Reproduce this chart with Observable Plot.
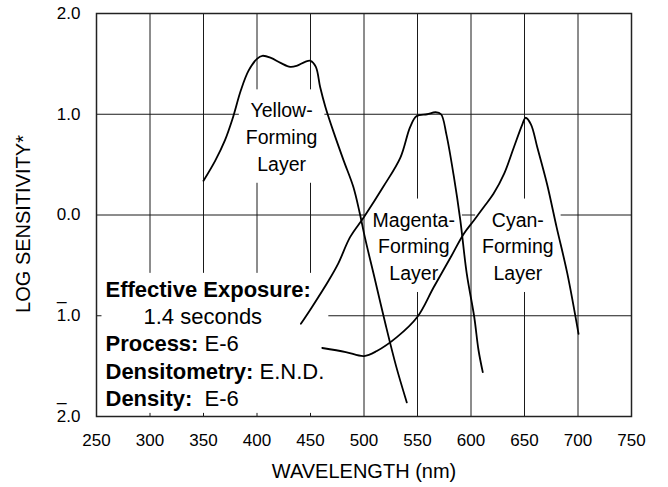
<!DOCTYPE html>
<html><head><meta charset="utf-8">
<script src="https://cdn.jsdelivr.net/npm/d3@7"></script>
<script src="https://cdn.jsdelivr.net/npm/@observablehq/plot@0.6"></script>
<style>
body{margin:0;background:#fff;}
#chart svg{font-family:"Liberation Sans", Arial, Helvetica, sans-serif;}
</style></head><body><div id="chart"></div>
<script>
// ---- data ----
const xTicks = [250, 300, 350, 400, 450, 500, 550, 600, 650, 700, 750];
const xGrid = [300, 350, 400, 450, 500, 550, 600, 650, 700];
const yTicks = [-2, -1, 0, 1, 2];
const yTickLabels = ["2.0", "1.0", "0.0", "1.0", "2.0"]; // negatives shown with bar notation
const yGrid = [-1, 0, 1];

const yellowWl  = [350, 361, 370, 377, 385, 392, 400, 405, 413, 422, 431, 437, 445, 450, 455, 459, 464, 472, 481, 490, 496, 501, 510, 520, 530, 540];
const yellowLog = [0.34, 0.54, 0.74, 0.95, 1.24, 1.43, 1.55, 1.58, 1.56, 1.51, 1.47, 1.48, 1.52, 1.53, 1.47, 1.27, 1.07, 0.81, 0.54, 0.28, 0.02, -0.23, -0.63, -1.08, -1.50, -1.86];

const magentaWl  = [441, 451, 467, 476, 487, 500, 518, 534, 543, 549, 559, 567, 572, 577, 584, 590, 596, 603, 607, 611];
const magentaLog = [-1.08, -0.92, -0.65, -0.48, -0.22, -0.02, 0.28, 0.57, 0.87, 0.98, 1.00, 1.02, 1.00, 0.80, 0.38, -0.05, -0.58, -1.01, -1.34, -1.56];

const cyanWl  = [461, 483, 500, 512, 531, 550, 565, 581, 593, 603, 612, 621, 631, 640, 648, 651, 656, 662, 671, 680, 690, 700.5];
const cyanLog = [-1.32, -1.36, -1.40, -1.35, -1.21, -1.01, -0.72, -0.42, -0.19, -0.05, 0.08, 0.21, 0.41, 0.67, 0.90, 0.965, 0.90, 0.67, 0.31, -0.12, -0.58, -1.18];

const layerNames = ["Yellow", "Magenta", "Cyan"];
const layerLabels = ["Yellow-\nForming\nLayer", "Magenta-\nForming\nLayer", "Cyan-\nForming\nLayer"];
const layerLabelWl = [423, 546.5, 643.8];
const layerLabelLog = [0.789, -0.295, -0.295];

const infoKeys = ["Effective Exposure:", "", "Process:", "Densitometry:", "Density:"];
const infoValues = ["", "1.4 seconds", " E-6", " E.N.D.", "  E-6"];

const xTitle = "WAVELENGTH (nm)";
const yTitle = "LOG SENSITIVITY*";

// ---- build tables ----
const rows = [];
[[yellowWl, yellowLog], [magentaWl, magentaLog], [cyanWl, cyanLog]].forEach(([w, l], k) => {
  w.forEach((x, i) => rows.push({layer: layerNames[k], wl: x, log: l[i]}));
});
const labelRows = layerLabels.map((t, i) => ({text: t, wl: layerLabelWl[i], log: layerLabelLog[i]}));
const infoText = infoKeys.map((k, i) => k + "|" + infoValues[i]).join("\n");

const FONT = '"Liberation Sans", Arial, Helvetica, sans-serif';

const plot = Plot.plot({
  width: 668,
  height: 487,
  marginLeft: 96,
  marginRight: 37,
  marginTop: 13,
  marginBottom: 71,
  style: {fontFamily: FONT, fontSize: "17px", color: "#000", background: "#fff", overflow: "visible"},
  x: {domain: [250, 750]},
  y: {domain: [-2, 2]},
  marks: [
    Plot.ruleX(xGrid, {stroke: "#1a1a1a", strokeWidth: 1}),
    Plot.ruleY(yGrid, {stroke: "#1a1a1a", strokeWidth: 1}),
    Plot.axisX({ticks: xTicks, tickSize: 0, tickPadding: 17, label: null, fontSize: 17, tickFormat: d => String(d)}),
    Plot.axisY({ticks: yTicks, tickSize: 0, tickPadding: 16, label: null, fontSize: 17,
      tickFormat: d => yTickLabels[yTicks.indexOf(d)]}),
    Plot.text(yTicks.filter(d => d < 0), {y: d => d, frameAnchor: "left", text: () => "_",
      textAnchor: "start", dx: -39.6, dy: -21, fontSize: 17}),
    Plot.text(labelRows, {x: "wl", y: "log", text: "text", lineHeight: 1.37, fontSize: 19.5}),
    Plot.text([infoText], {x: () => 258.4, y: () => -1.267, text: d => d, textAnchor: "start",
      lineHeight: 1.239, fontSize: 22}),
    Plot.line(rows, {x: "wl", y: "log", z: "layer", curve: "catmull-rom", stroke: "#000", strokeWidth: 1.8}),
    Plot.frame({stroke: "#222", strokeWidth: 1.5}),
    Plot.text([xTitle], {frameAnchor: "bottom", text: d => d, textAnchor: "middle", lineAnchor: "middle", dy: 55, fontSize: 20}),
    Plot.text([yTitle], {frameAnchor: "left", text: d => d, textAnchor: "middle", lineAnchor: "middle",
      rotate: -90, dx: -73, dy: 9, fontSize: 20})
  ]
});

document.getElementById("chart").appendChild(plot);

const XMLNS = "http://www.w3.org/XML/1998/namespace";
const SVGNS = "http://www.w3.org/2000/svg";
const allTexts = Array.from(plot.querySelectorAll("text"));
const infoTexts = allTexts.filter(t => t.textContent.includes("|"));
const layerTexts = allTexts.filter(t => t.textContent.includes("Forming"));

// mixed bold / regular lines in the info block
function splitLine(node) {
  const [k, v] = node.textContent.split("|");
  while (node.firstChild) node.removeChild(node.firstChild);
  if (k) {
    const b = document.createElementNS(SVGNS, "tspan");
    b.setAttribute("font-weight", "bold");
    b.textContent = k;
    node.appendChild(b);
  }
  if (v) {
    const n = document.createElementNS(SVGNS, "tspan");
    n.textContent = v;
    if (!k) n.setAttribute("dx", 38);
    node.appendChild(n);
  }
}
infoTexts.forEach(t => {
  t.setAttributeNS(XMLNS, "xml:space", "preserve");
  t.style.whiteSpace = "pre";
  const lines = Array.from(t.children).filter(c => c.tagName.toLowerCase() === "tspan");
  if (lines.length) lines.forEach(splitLine); else splitLine(t);
});

// white boxes behind the annotations (they hide the grid lines there, as in the original)
const svgRect = plot.getBoundingClientRect();
const anchorGroup = layerTexts.length ? layerTexts[0].parentNode : null;
function boxFor(texts, px, pyTop, pyBot) {
  texts.forEach(t => {
    const r = t.getBoundingClientRect();
    const rect = document.createElementNS(SVGNS, "rect");
    rect.setAttribute("x", r.left - svgRect.left - px);
    rect.setAttribute("y", r.top - svgRect.top - pyTop);
    rect.setAttribute("width", r.width + 2 * px);
    rect.setAttribute("height", r.height + pyTop + pyBot);
    rect.setAttribute("fill", "#fff");
    anchorGroup.parentNode.insertBefore(rect, anchorGroup);
  });
}
if (anchorGroup) {
  boxFor(layerTexts, 7, 10, 8);
  boxFor(infoTexts, 4, 4, 2);
}
</script>
</body></html>
